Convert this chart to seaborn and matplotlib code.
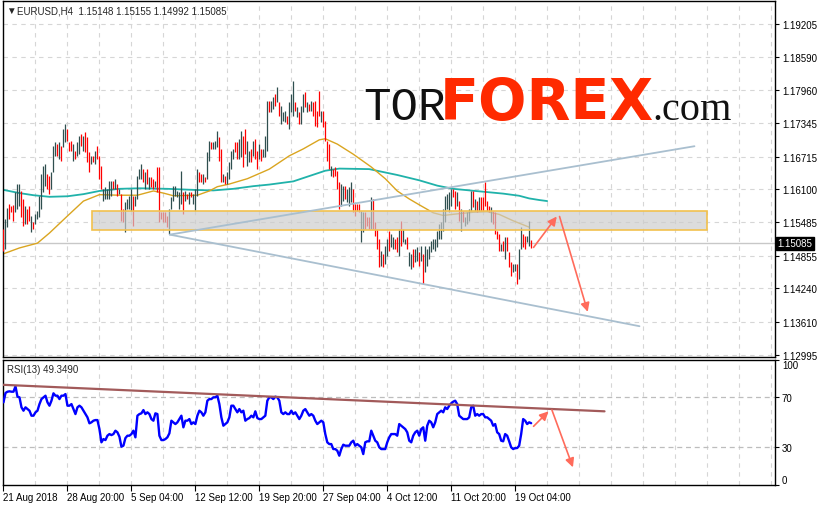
import numpy as np
import pandas as pd
import seaborn as sns
import matplotlib.pyplot as plt
import matplotlib.transforms as mtransforms
from matplotlib.patches import Rectangle

sns.set_theme(style="white")
plt.rcParams['font.family'] = ['Liberation Sans', 'DejaVu Sans']

# EURUSD H4 bars, index 0 = first visible bar
bar_high = [
    1.1536, 1.1554, 1.1575, 1.1583, 1.1579, 1.1581, 1.1605, 1.1620, 1.1620, 1.1607,
    1.1592, 1.1579, 1.1573, 1.1579, 1.1560, 1.1549, 1.1564, 1.1569, 1.1598, 1.1639,
    1.1654, 1.1658, 1.1639, 1.1635, 1.1643, 1.1691, 1.1699, 1.1695, 1.1699, 1.1691,
    1.1723, 1.1733, 1.1723, 1.1699, 1.1701, 1.1695, 1.1682, 1.1699, 1.1710, 1.1714,
    1.1710, 1.1718, 1.1708, 1.1680, 1.1673, 1.1673, 1.1682, 1.1691, 1.1673, 1.1654,
    1.1611, 1.1614, 1.1611, 1.1626, 1.1626, 1.1626, 1.1630, 1.1620, 1.1611, 1.1601,
    1.1573, 1.1586, 1.1592, 1.1598, 1.1611, 1.1598, 1.1598, 1.1635, 1.1648, 1.1658,
    1.1648, 1.1643, 1.1648, 1.1633, 1.1633, 1.1630, 1.1626, 1.1652, 1.1652, 1.1568,
    1.1568, 1.1568, 1.1560, 1.1573, 1.1596, 1.1616, 1.1616, 1.1607, 1.1605, 1.1645,
    1.1605, 1.1607, 1.1601, 1.1605, 1.1605, 1.1601, 1.1611, 1.1648, 1.1643, 1.1639,
    1.1639, 1.1633, 1.1680, 1.1701, 1.1699, 1.1699, 1.1701, 1.1720, 1.1708, 1.1686,
    1.1639, 1.1635, 1.1643, 1.1661, 1.1682, 1.1686, 1.1699, 1.1699, 1.1705, 1.1720,
    1.1710, 1.1723, 1.1701, 1.1682, 1.1686, 1.1701, 1.1705, 1.1682, 1.1695, 1.1686,
    1.1686, 1.1710, 1.1776, 1.1776, 1.1776, 1.1783, 1.1789, 1.1802, 1.1774, 1.1767,
    1.1755, 1.1757, 1.1748, 1.1774, 1.1789, 1.1813, 1.1774, 1.1765, 1.1755, 1.1767,
    1.1789, 1.1793, 1.1774, 1.1770, 1.1776, 1.1774, 1.1776, 1.1757, 1.1795, 1.1757,
    1.1757, 1.1738, 1.1701, 1.1695, 1.1654, 1.1648, 1.1652, 1.1645, 1.1624, 1.1620,
    1.1616, 1.1616, 1.1611, 1.1614, 1.1624, 1.1611, 1.1583, 1.1583, 1.1583, 1.1569,
    1.1568, 1.1568, 1.1558, 1.1558, 1.1596, 1.1592, 1.1549, 1.1536, 1.1517, 1.1494,
    1.1489, 1.1504, 1.1517, 1.1532, 1.1526, 1.1520, 1.1517, 1.1520, 1.1536, 1.1551,
    1.1536, 1.1517, 1.1520, 1.1492, 1.1489, 1.1498, 1.1498, 1.1502, 1.1492, 1.1504,
    1.1489, 1.1504, 1.1498, 1.1504, 1.1513, 1.1517, 1.1517, 1.1532, 1.1545, 1.1549,
    1.1573, 1.1598, 1.1601, 1.1605, 1.1611, 1.1611, 1.1607, 1.1605, 1.1588, 1.1573,
    1.1569, 1.1558, 1.1568, 1.1573, 1.1607, 1.1607, 1.1592, 1.1588, 1.1596, 1.1596,
    1.1596, 1.1624, 1.1588, 1.1579, 1.1577, 1.1569, 1.1568, 1.1532, 1.1526, 1.1507,
    1.1513, 1.1520, 1.1520, 1.1492, 1.1474, 1.1470, 1.1470, 1.1470, 1.1498, 1.1539,
    1.1526, 1.1522, 1.1522, 1.1551, 1.15155,
]
bar_low = [
    1.1494, 1.1498, 1.1539, 1.1554, 1.1568, 1.1551, 1.1568, 1.1573, 1.1579, 1.1558,
    1.1541, 1.1545, 1.1545, 1.1551, 1.1530, 1.1536, 1.1545, 1.1554, 1.1558, 1.1573,
    1.1605, 1.1616, 1.1611, 1.1601, 1.1611, 1.1643, 1.1673, 1.1673, 1.1667, 1.1663,
    1.1690, 1.1699, 1.1701, 1.1682, 1.1682, 1.1663, 1.1667, 1.1673, 1.1676, 1.1691,
    1.1682, 1.1680, 1.1661, 1.1643, 1.1658, 1.1661, 1.1658, 1.1667, 1.1630, 1.1611,
    1.1588, 1.1592, 1.1592, 1.1592, 1.1598, 1.1611, 1.1611, 1.1598, 1.1601, 1.1551,
    1.1549, 1.1530, 1.1573, 1.1573, 1.1569, 1.1541, 1.1579, 1.1592, 1.1630, 1.1630,
    1.1624, 1.1611, 1.1620, 1.1611, 1.1614, 1.1611, 1.1614, 1.1605, 1.1549, 1.1554,
    1.1549, 1.1549, 1.1539, 1.1526, 1.1573, 1.1588, 1.1598, 1.1596, 1.1573, 1.1583,
    1.1564, 1.1588, 1.1592, 1.1583, 1.1596, 1.1583, 1.1569, 1.1598, 1.1624, 1.1624,
    1.1620, 1.1624, 1.1630, 1.1663, 1.1686, 1.1686, 1.1686, 1.1690, 1.1663, 1.1624,
    1.1624, 1.1620, 1.1620, 1.1630, 1.1648, 1.1667, 1.1680, 1.1667, 1.1667, 1.1671,
    1.1652, 1.1676, 1.1654, 1.1661, 1.1661, 1.1673, 1.1667, 1.1648, 1.1667, 1.1663,
    1.1671, 1.1671, 1.1682, 1.1755, 1.1755, 1.1761, 1.1767, 1.1774, 1.1748, 1.1733,
    1.1738, 1.1737, 1.1733, 1.1723, 1.1755, 1.1748, 1.1757, 1.1746, 1.1733, 1.1733,
    1.1755, 1.1765, 1.1755, 1.1757, 1.1757, 1.1748, 1.1729, 1.1727, 1.1748, 1.1737,
    1.1727, 1.1701, 1.1663, 1.1648, 1.1635, 1.1633, 1.1635, 1.1611, 1.1573, 1.1579,
    1.1588, 1.1592, 1.1586, 1.1579, 1.1586, 1.1568, 1.1560, 1.1569, 1.1568, 1.1511,
    1.1530, 1.1536, 1.1541, 1.1536, 1.1536, 1.1536, 1.1522, 1.1498, 1.1464, 1.1466,
    1.1464, 1.1470, 1.1485, 1.1494, 1.1502, 1.1498, 1.1498, 1.1492, 1.1485, 1.1504,
    1.1511, 1.1507, 1.1498, 1.1466, 1.1460, 1.1464, 1.1474, 1.1475, 1.1466, 1.1475,
    1.1432, 1.1455, 1.1466, 1.1479, 1.1492, 1.1498, 1.1494, 1.1502, 1.1517, 1.1517,
    1.1532, 1.1549, 1.1573, 1.1568, 1.1579, 1.1596, 1.1573, 1.1579, 1.1551, 1.1532,
    1.1549, 1.1541, 1.1545, 1.1551, 1.1569, 1.1577, 1.1569, 1.1568, 1.1569, 1.1569,
    1.1569, 1.1579, 1.1569, 1.1568, 1.1549, 1.1545, 1.1526, 1.1517, 1.1494, 1.1494,
    1.1494, 1.1479, 1.1494, 1.1464, 1.1447, 1.1455, 1.1457, 1.1432, 1.1442, 1.1498,
    1.1502, 1.1498, 1.1511, 1.1504, 1.14992,
]
# u = bullish bar, d = bearish bar
bar_dir = ("duuddduuud" "dudduduuuu" "uudduuudud" "uuddduduud" "udddududdd"
           "uuuuududud" "duuuuduuuu" "dududduddd" "ddduuuuuuu" "dududuuudd"
           "uduuduuudd" "uduuuudduu" "dduududdud" "uuuduududu" "uuduuududu"
           "udududdddu" "dddduddddu" "uduuuddddu" "uddduddddu" "duuduuddud"
           "uuduuduudu" "duuuuuuuuu" "uuuuuddudu" "duuuududud" "dddduddddu"
           "duddduuduu" "dduud")

# moving averages, read at a few bars
ma_fast_bar = [0, 8, 17, 23, 32, 40, 48, 58, 67, 75, 80, 85, 97, 103, 107, 113, 122,
               130, 133, 143, 150, 158, 161, 167, 175, 184, 191, 197, 203, 208, 215,
               220, 227, 235, 242, 248, 255, 263]
ma_fast = [1.1489, 1.1500, 1.1509, 1.1528, 1.1560, 1.1588, 1.1600, 1.1599, 1.1599,
           1.1607, 1.1603, 1.1598, 1.1599, 1.1607, 1.1615, 1.1620, 1.1630, 1.1643,
           1.1648, 1.1673, 1.1686, 1.1703, 1.1705, 1.1695, 1.1676, 1.1652, 1.1630,
           1.1607, 1.1592, 1.1581, 1.1566, 1.1561, 1.1564, 1.1567, 1.1568, 1.1563,
           1.1551, 1.1539]
ma_slow_bar = [0, 8, 15, 23, 32, 40, 48, 58, 68, 82, 95, 105, 115, 125, 133, 145, 153,
               161, 168, 183, 197, 208, 217, 225, 236, 250, 258, 263, 268, 272]
ma_slow = [1.1609, 1.1603, 1.1599, 1.1596, 1.1597, 1.1601, 1.1607, 1.1611, 1.1612,
           1.1611, 1.1609, 1.1608, 1.1611, 1.1616, 1.1619, 1.1625, 1.1635, 1.1645,
           1.1649, 1.1648, 1.1637, 1.1627, 1.1617, 1.1611, 1.1607, 1.1602, 1.1598,
           1.1593, 1.1590, 1.1588]

# RSI(13), one value per bar
rsi = [
    66, 73.5, 74.5, 74.8, 74.5, 74.5, 78.8, 70.5, 70, 62,
    59.3, 62, 60.6, 59.3, 55.3, 55.3, 58, 59.3, 64.6, 68.6,
    70, 71.3, 66, 63.3, 67.3, 73.2, 71.3, 71.3, 68.6, 71.3,
    71.3, 72.6, 63.3, 63.3, 64.6, 60.6, 56.6, 62, 63.3, 62,
    59.3, 56.6, 54, 49.2, 50, 51.3, 51.8, 51.8, 44.6, 34,
    36.6, 35.8, 39.3, 40.6, 39.8, 40.6, 43.3, 42, 38.5, 30.5,
    31.3, 37.4, 39.3, 39.3, 40.6, 43.3, 38, 55.3, 56.6, 57.2,
    59.8, 56.6, 58, 56.6, 52.6, 51.3, 57.2, 56.6, 39.3, 35.8,
    35.8, 36.6, 38, 41.2, 51.3, 50, 48.6, 50, 52.6, 55.3,
    46, 51.3, 51.3, 52.6, 48.6, 50, 48.6, 55.3, 59.3, 58,
    55.3, 58, 67.3, 68.6, 68.6, 70, 70, 71.3, 64.6, 54,
    47.3, 48.6, 50, 54, 63.3, 63.3, 60.6, 58, 60.6, 58,
    59.3, 51.3, 52.6, 53.4, 55.3, 54, 58.8, 53.4, 52.6, 52.6,
    54, 55.3, 67.3, 70, 70, 68.6, 70.5, 70, 67.3, 58,
    56.6, 58, 56.6, 56.6, 59.3, 56.6, 58, 55.3, 52.6, 55.3,
    59.3, 60.6, 58, 55.3, 56.6, 55.3, 51.3, 48.6, 50, 51.3,
    50, 40.6, 34, 32.6, 32.6, 28.6, 28.6, 27.3, 23.3, 28.6,
    32.1, 31.3, 31.3, 31.3, 34, 35.3, 31.3, 32.6, 31.3, 30,
    24.6, 34, 34.8, 34.8, 43.3, 39.3, 35.3, 34, 30, 28.6,
    28.6, 28.6, 34, 38, 40.6, 40.6, 40.6, 39.3, 48.6, 47.3,
    46, 44.6, 42, 35.3, 34, 39.3, 42, 43.3, 39.3, 44.6,
    46, 35.3, 47.3, 51.3, 50, 46, 50, 56.6, 58, 59.3,
    58, 62, 60.6, 63.3, 65.2, 66.5, 67.3, 64.6, 55.3, 54,
    52.6, 52.6, 52.6, 54, 62, 63.3, 55.3, 56.6, 55.3, 56.6,
    56.6, 54, 54, 52.6, 51.3, 47.3, 48.6, 42, 40.6, 35.3,
    34.8, 40.6, 39.3, 34.8, 30, 28.6, 29.4, 29.4, 31.3, 40.6,
    52.6, 51.3, 48.6, 50, 49.3,
]

price_ticks = [1.19205, 1.18590, 1.17960, 1.17345, 1.16715, 1.16100,
               1.15485, 1.14855, 1.14240, 1.13610, 1.12995]
rsi_ticks = [0, 30, 70, 100]
time_ticks = [-0.4, 32, 64, 96, 128, 160, 192, 224, 256]
time_labels = ['21 Aug 2018', '28 Aug 20:00', '5 Sep 04:00', '12 Sep 12:00',
               '19 Sep 20:00', '27 Sep 04:00', '4 Oct 12:00', '11 Oct 20:00',
               '19 Oct 04:00']
last_price = 1.15085
header = 'EURUSD,H4  1.15148 1.15155 1.14992 1.15085'

# analyst drawings (bar index, price)
zone = (44.5, 351.8, 1.1533, 1.1569)
channel_low = [(83.2, 1.1525), (318.2, 1.1353)]
channel_up = [(83.2, 1.1525), (345.7, 1.1691)]
price_arrows = [((265.2, 1.1501), (276.8, 1.1559)), ((278.2, 1.1559), (292.3, 1.1380))]
rsi_line = [(-1.5, 80.1), (300.7, 58.8)]
rsi_arrows = [((265.2, 46.8), (272.7, 58.8)), ((274.4, 59.8), (284.9, 14.0))]

bars = pd.DataFrame({'bar': np.arange(len(bar_high)), 'high': bar_high,
                     'low': bar_low, 'dir': list(bar_dir)})
bars['color'] = np.where(bars['dir'] == 'u', '#2F4F4F', '#FF0000')

GRID = '#D6D6D6'
ARROW = '#FF6B5B'
XMAX = 386

fig = plt.figure(figsize=(8.17, 5.06), dpi=100)
fig.patch.set_facecolor('white')
ax = fig.add_axes([0.0033, 0.2925, 0.9453, 0.7026])
ax_rsi = fig.add_axes([0.0033, 0.0399, 0.9453, 0.2470])

grid_x = list(range(16, XMAX, 16))

# ---- price panel
ax.set_xlim(-0.4, XMAX)
ax.set_ylim(1.12952, 1.19628)
for g in grid_x:
    ax.axvline(g, color=GRID, lw=0.8, ls=(0, (4, 4)), zorder=0)
for p in price_ticks:
    ax.axhline(p, color=GRID, lw=0.8, ls=(0, (4, 4)), zorder=0)
ax.axhline(last_price, color='#C8C8C8', lw=1, zorder=1)

sns.lineplot(x=ma_slow_bar, y=ma_slow, ax=ax, color='#20B2AA', lw=1.3, zorder=2)
sns.lineplot(x=ma_fast_bar, y=ma_fast, ax=ax, color='#DAA520', lw=1.0, zorder=2)

ax.vlines(bars['bar'], bars['low'], bars['high'], colors=bars['color'], lw=0.9, zorder=3)

ax.add_patch(Rectangle((zone[0], zone[2]), zone[1] - zone[0], zone[3] - zone[2],
                       facecolor=(0.80, 0.80, 0.80, 0.68), edgecolor='#F2C14E',
                       lw=1.2, zorder=4))
for line in (channel_low, channel_up):
    ax.plot([line[0][0], line[1][0]], [line[0][1], line[1][1]],
            color='#A9BFCF', lw=1.3, zorder=5)
for start, end in price_arrows:
    ax.annotate('', xy=end, xytext=start,
                arrowprops=dict(arrowstyle='-|>', color=ARROW, lw=1.2,
                                mutation_scale=13, shrinkA=0, shrinkB=0), zorder=6)

ax.yaxis.tick_right()
ax.set_yticks(price_ticks)
ax.set_yticklabels([f'{p:.5f}' for p in price_ticks])
ax.set_xticks([])
ax.tick_params(axis='y', which='both', right=True, length=3, width=0.8,
               labelsize=7, pad=2, colors='black')
ax.set_xlabel('')
ax.set_ylabel('')
for s in ax.spines.values():
    s.set_color('black')
    s.set_linewidth(1)

trans = mtransforms.blended_transform_factory(ax.transAxes, ax.transData)
ax.text(1.003, last_price, f'{last_price:.5f}', transform=trans, color='white',
        fontsize=7, va='center', ha='left', zorder=10,
        bbox=dict(boxstyle='square,pad=0.18', fc='black', ec='black'))

# ---- RSI panel
ax_rsi.set_xlim(-0.4, XMAX)
ax_rsi.set_ylim(0, 100)
for g in grid_x:
    ax_rsi.axvline(g, color=GRID, lw=0.8, ls=(0, (4, 4)), zorder=0)
for lvl in (30, 70):
    ax_rsi.axhline(lvl, color='#BDBDBD', lw=0.9, ls=(0, (4, 3)), zorder=0)

sns.lineplot(x=np.arange(len(rsi)), y=rsi, ax=ax_rsi, color='#0000FF', lw=1.7, zorder=3)
ax_rsi.plot([rsi_line[0][0], rsi_line[1][0]], [rsi_line[0][1], rsi_line[1][1]],
            color='#A25A5A', lw=1.6, zorder=4)
for start, end in rsi_arrows:
    ax_rsi.annotate('', xy=end, xytext=start,
                    arrowprops=dict(arrowstyle='-|>', color=ARROW, lw=1.2,
                                    mutation_scale=13, shrinkA=0, shrinkB=0), zorder=6)

ax_rsi.yaxis.tick_right()
ax_rsi.set_yticks(rsi_ticks)
ax_rsi.set_yticklabels([str(v) for v in rsi_ticks])
for lbl, v in zip(ax_rsi.get_yticklabels(), rsi_ticks):
    if v == 100:
        lbl.set_va('top')
    elif v == 0:
        lbl.set_va('bottom')
ax_rsi.set_xticks(time_ticks)
ax_rsi.set_xticklabels(time_labels)
for lbl in ax_rsi.get_xticklabels():
    lbl.set_ha('left')
ax_rsi.tick_params(axis='y', right=True, length=3, width=0.8, labelsize=7, pad=2,
                   colors='black')
ax_rsi.tick_params(axis='x', bottom=True, length=4, width=0.8, labelsize=7, pad=1,
                   colors='black')
ax_rsi.set_xlabel('')
ax_rsi.set_ylabel('')
for s in ax_rsi.spines.values():
    s.set_color('black')
    s.set_linewidth(1)

# ---- texts
W, H = 817, 506
fig.text(6.0 / W, 1 - 11 / H, '▼', fontsize=7, va='center', ha='left')
fig.text(17 / W, 1 - 11 / H, header, fontsize=7, va='center', ha='left')
fig.text(7 / W, 1 - 370 / H, 'RSI(13) 49.3490', fontsize=7, va='center', ha='left')

fig.text(363 / W, 1 - 120 / H, 'TOR', fontsize=33, family='Liberation Mono',
         color='#111111', va='baseline', ha='left')
fig.text(440 / W, 1 - 120 / H, 'FOREX', fontsize=41, family='DejaVu Sans',
         weight='bold', color='#FF2A00', va='baseline', ha='left')
fig.text(652 / W, 1 - 120 / H, '.com', fontsize=29, family='Liberation Serif',
         color='#111111', va='baseline', ha='left')

fig.savefig('out.png', dpi=100, facecolor='white')
